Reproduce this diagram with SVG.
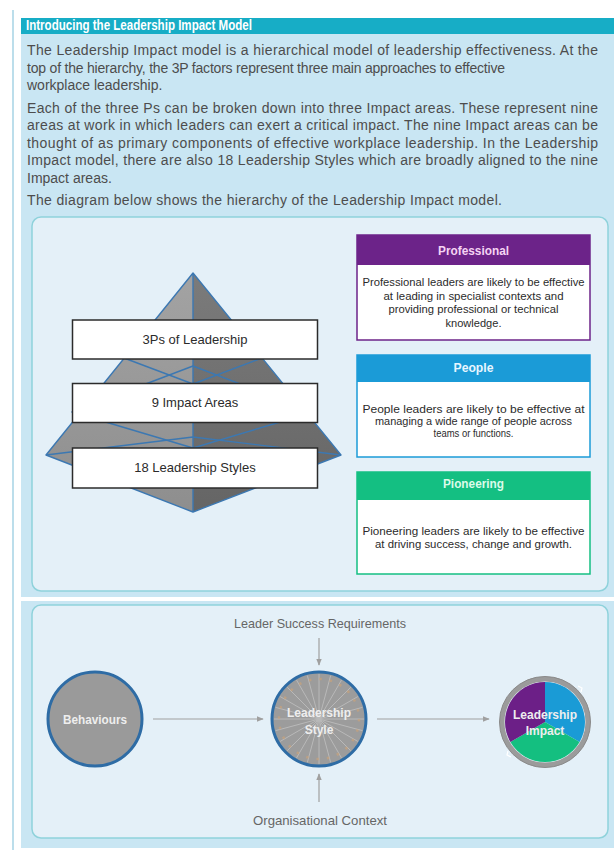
<svg xmlns="http://www.w3.org/2000/svg" width="614" height="850" viewBox="0 0 614 850">
<defs>
<style>
.body{font-family:"Liberation Sans",Arial,sans-serif;font-size:14px;fill:#4d4d4d}
.title{font-family:"Liberation Sans",Arial,sans-serif;font-size:14px;font-weight:bold;fill:#ffffff}
.box{fill:#ffffff;stroke:#2b2b2b;stroke-width:1.5}
.boxt{font-family:"Liberation Sans",Arial,sans-serif;font-size:13px;fill:#2b2b2b;text-anchor:middle}
.card{font-family:"Liberation Sans",Arial,sans-serif;font-size:10.5px;fill:#2b2b2b;text-anchor:middle}
.head{font-family:"Liberation Sans",Arial,sans-serif;font-size:12.5px;font-weight:bold;text-anchor:middle}
.lbl{font-family:"Liberation Sans",Arial,sans-serif;font-size:13px;fill:#666666;text-anchor:middle}
.ctext{font-family:"Liberation Sans",Arial,sans-serif;font-size:12px;font-weight:bold;fill:#eeeeee;text-anchor:middle}
.edge{stroke:#3c78b2;stroke-width:1.4;fill:none;stroke-linejoin:round}
.conn{stroke:#a0a0a0;stroke-width:1.2;fill:none}
.panel{fill:#e4f0f8;stroke:#8fd2db;stroke-width:1.5}
</style>
<marker id="arr" viewBox="0 0 10 10" refX="9" refY="5" markerWidth="6" markerHeight="6" orient="auto-start-reverse">
<path d="M0,1 L10,5 L0,9 Z" fill="#a0a0a0"/>
</marker>
<linearGradient id="gl" x1="0" y1="0" x2="0" y2="1">
<stop offset="0" stop-color="#a3a3a3"/><stop offset="1" stop-color="#8e8e8e"/>
</linearGradient>
<linearGradient id="gr" x1="0" y1="0" x2="0" y2="1">
<stop offset="0" stop-color="#7b7b7b"/><stop offset="1" stop-color="#656565"/>
</linearGradient>
</defs>

<rect x="0" y="0" width="614" height="850" fill="#ffffff"/>
<line x1="13" y1="10" x2="13" y2="850" stroke="#bcdeeb" stroke-width="2"/>

<!-- outer background regions -->
<rect x="21" y="18" width="593" height="579" fill="#c9e6f3"/>
<rect x="21" y="601" width="593" height="247" fill="#c9e6f3"/>
<rect x="21" y="18" width="593" height="16" fill="#17adc6"/>
<text class="title" x="26" y="30" textLength="226" lengthAdjust="spacingAndGlyphs">Introducing the Leadership Impact Model</text>

<g id="intro-text">
<text class="body" x="27" y="55" textLength="571">The Leadership Impact model is a hierarchical model of leadership effectiveness. At the</text>
<text class="body" x="27" y="72.5" textLength="478">top of the hierarchy, the 3P factors represent three main approaches to effective</text>
<text class="body" x="27" y="90">workplace leadership.</text>
<text class="body" x="27" y="112.5" textLength="571">Each of the three Ps can be broken down into three Impact areas. These represent nine</text>
<text class="body" x="27" y="130" textLength="571">areas at work in which leaders can exert a critical impact. The nine Impact areas can be</text>
<text class="body" x="27" y="147.5" textLength="571">thought of as primary components of effective workplace leadership. In the Leadership</text>
<text class="body" x="27" y="165" textLength="571">Impact model, there are also 18 Leadership Styles which are broadly aligned to the nine</text>
<text class="body" x="27" y="182.5">Impact areas.</text>
<text class="body" x="27" y="205" textLength="475">The diagram below shows the hierarchy of the Leadership Impact model.</text>
</g>

<rect class="panel" x="32" y="217" width="576" height="374" rx="9"/>
<rect class="panel" x="32" y="605" width="576" height="233" rx="9"/>

<g id="pyramid">
<polygon points="193,273 46,455 193,512" fill="url(#gl)"/>
<polygon points="193,273 341,455 193,512" fill="url(#gr)"/>
<path class="edge" d="M193,273 L46,455 L193,512 L341,455 Z M193,273 L193,512"/>
<path class="edge" d="M124,358 L193,384 L262,358 L193,332 Z"/>
<path class="edge" d="M72,412 L193,448 L314,412 L193,366 Z"/>
<path class="edge" d="M46,455 L193,437 L341,455"/>
</g>

<g id="box-3ps">
<rect class="box" x="72.5" y="320" width="245" height="39"/>
<text class="boxt" x="195" y="343.5">3Ps of Leadership</text>
</g>
<g id="box-impact-areas">
<rect class="box" x="72.5" y="383.5" width="245" height="39"/>
<text class="boxt" x="195" y="407">9 Impact Areas</text>
</g>
<g id="box-styles">
<rect class="box" x="72.5" y="448" width="245" height="40"/>
<text class="boxt" x="195" y="472">18 Leadership Styles</text>
</g>

<g id="card-professional">
<rect x="357" y="235" width="233" height="105" fill="#ffffff" stroke="#6c2389" stroke-width="1.5"/>
<rect x="357" y="235" width="233" height="30" fill="#6c2389"/>
<text class="head" x="473.5" y="254.5" fill="#f5d3f3" textLength="71" lengthAdjust="spacingAndGlyphs">Professional</text>
<text class="card" x="473.5" y="285.5" textLength="222" lengthAdjust="spacingAndGlyphs">Professional leaders are likely to be effective</text>
<text class="card" x="473.5" y="299.5" textLength="180" lengthAdjust="spacingAndGlyphs">at leading in specialist contexts and</text>
<text class="card" x="473.5" y="313" textLength="170" lengthAdjust="spacingAndGlyphs">providing professional or technical</text>
<text class="card" x="473.5" y="326.5" textLength="56" lengthAdjust="spacingAndGlyphs">knowledge.</text>
</g>

<g id="card-people">
<rect x="357" y="355" width="233" height="102" fill="#ffffff" stroke="#1b9bd7" stroke-width="1.5"/>
<rect x="357" y="355" width="233" height="27" fill="#1b9bd7"/>
<text class="head" x="473.5" y="372" fill="#e8f6ff" textLength="40" lengthAdjust="spacingAndGlyphs">People</text>
<text class="card" x="473.5" y="412.5" textLength="222" lengthAdjust="spacingAndGlyphs">People leaders are likely to be effective at</text>
<text class="card" x="473.5" y="425" textLength="197" lengthAdjust="spacingAndGlyphs">managing a wide range of people across</text>
<text class="card" x="473.5" y="436.5" textLength="80" lengthAdjust="spacingAndGlyphs">teams or functions.</text>
</g>

<g id="card-pioneering">
<rect x="357" y="472" width="233" height="102" fill="#ffffff" stroke="#14bf82" stroke-width="1.5"/>
<rect x="357" y="472" width="233" height="28" fill="#14bf82"/>
<text class="head" x="473.5" y="487.5" fill="#dcfbe9" textLength="61" lengthAdjust="spacingAndGlyphs">Pioneering</text>
<text class="card" x="473.5" y="534.5" textLength="222" lengthAdjust="spacingAndGlyphs">Pioneering leaders are likely to be effective</text>
<text class="card" x="473.5" y="547.5" textLength="197" lengthAdjust="spacingAndGlyphs">at driving success, change and growth.</text>
</g>

<g id="connectors">
<line class="conn" x1="153" y1="719" x2="263" y2="719" marker-end="url(#arr)"/>
<line class="conn" x1="377" y1="719" x2="489" y2="719" marker-end="url(#arr)"/>
<line class="conn" x1="319" y1="638" x2="319" y2="665" marker-end="url(#arr)"/>
<line class="conn" x1="319" y1="802" x2="319" y2="774" marker-end="url(#arr)"/>
</g>

<g id="label-requirements">
<text class="lbl" x="320" y="628" textLength="172" lengthAdjust="spacingAndGlyphs">Leader Success Requirements</text>
</g>
<g id="label-context">
<text class="lbl" x="320" y="825" textLength="134" lengthAdjust="spacingAndGlyphs">Organisational Context</text>
</g>

<g id="node-behaviours">
<circle cx="95" cy="719" r="47" fill="#9a9a9a" stroke="#2e6ca5" stroke-width="3"/>
<text class="ctext" x="95" y="723.5" textLength="64" lengthAdjust="spacingAndGlyphs">Behaviours</text>
</g>

<g id="node-style">
<circle cx="319" cy="719" r="47" fill="#9c9c9c"/>
<g stroke="#b9b9b9" stroke-width="1">
<line x1="364" y1="719" x2="274" y2="719"/>
<line x1="362.47" y1="730.65" x2="275.53" y2="707.35"/>
<line x1="357.97" y1="741.5" x2="280.03" y2="696.5"/>
<line x1="350.82" y1="750.82" x2="287.18" y2="687.18"/>
<line x1="341.5" y1="757.97" x2="296.5" y2="680.03"/>
<line x1="330.65" y1="762.47" x2="307.35" y2="675.53"/>
<line x1="319" y1="764" x2="319" y2="674"/>
<line x1="307.35" y1="762.47" x2="330.65" y2="675.53"/>
<line x1="296.5" y1="757.97" x2="341.5" y2="680.03"/>
<line x1="287.18" y1="750.82" x2="350.82" y2="687.18"/>
<line x1="280.03" y1="741.5" x2="357.97" y2="696.5"/>
<line x1="275.53" y1="730.65" x2="362.47" y2="707.35"/>
</g>
<circle cx="319" cy="719" r="40" fill="none" stroke="#c8a27c" stroke-width="2.5" stroke-dasharray="2.5 7.97" opacity="0.7"/>
<circle cx="319" cy="719" r="47" fill="none" stroke="#2e6ca5" stroke-width="3"/>
<text class="ctext" x="319" y="717" fill="#f0f0f0" font-weight="normal">Leadership</text>
<text class="ctext" x="319" y="734" fill="#f0f0f0" font-weight="normal">Style</text>
</g>

<g id="node-impact">
<path d="M545,722 L545,682 A40,40 0 0 1 579.64,742 Z" fill="#1a9bd6"/>
<path d="M545,722 L579.64,742 A40,40 0 0 1 510.36,742 Z" fill="#14bf80"/>
<path d="M545,722 L510.36,742 A40,40 0 0 1 545,682 Z" fill="#6c1f87"/>
<circle cx="545" cy="722" r="43" fill="none" stroke="#9b9b9b" stroke-width="5"/>
<circle cx="545" cy="722" r="45.5" fill="none" stroke="#8a8a8a" stroke-width="1"/>
<path d="M578,686 l4,2 l-1,4" fill="none" stroke="#ffffff" stroke-width="1.2"/>
<path d="M511,757 l-4,-2 l1,-4" fill="none" stroke="#ffffff" stroke-width="1.2"/>
<text class="ctext" x="545" y="719" fill="#f3e6f7" font-weight="normal">Leadership</text>
<text class="ctext" x="545" y="735" fill="#f3e6f7" font-weight="normal">Impact</text>
</g>
</svg>
